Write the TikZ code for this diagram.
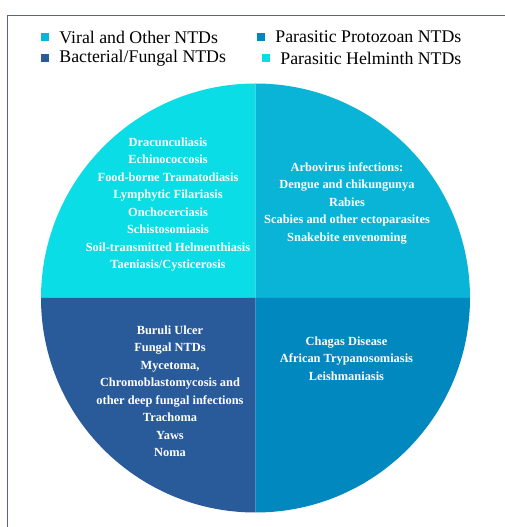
\documentclass[tikz,border=0pt]{standalone}
\usepackage{fontspec}
\setmainfont{Liberation Serif}
\usetikzlibrary{positioning}

\definecolor{helminth}{HTML}{0BDDE6}
\definecolor{viral}{HTML}{0AB4D6}
\definecolor{bacterial}{HTML}{295A9A}
\definecolor{protozoan}{HTML}{0088BF}
\definecolor{framecol}{HTML}{5A5DA8}

\begin{document}
\begin{tikzpicture}[
        x=1pt, y=1pt,
        node distance=0pt and 10pt,
        key/.style={rectangle, minimum size=8pt, inner sep=0pt},
        keytext/.style={inner sep=0pt, anchor=west, font=\rmfamily\fontsize{17.8}{19}\selectfont},
        group/.style={inner sep=0pt, align=center, text=white, font=\rmfamily\fontsize{12.4}{17.5}\selectfont\bfseries}
    ]
        \useasboundingbox (0,0) rectangle (505,527);
        \fill[white] (0,0) rectangle (505,527);

        % Frame
        \draw[framecol, line width=0.8pt] (7,0) -- (7,512) -- (505,512);

        % Pie
        \coordinate (c) at (255.5,229);
        \def\rad{214.5}
        \fill[helminth] (c) -- +(180:\rad) arc (180:90:\rad) -- cycle;
        \fill[viral] (c) -- +(90:\rad) arc (90:0:\rad) -- cycle;
        \fill[bacterial] (c) -- +(180:\rad) arc (180:270:\rad) -- cycle;
        \fill[protozoan] (c) -- +(270:\rad) arc (270:360:\rad) -- cycle;

        % Legend
        \node[key, fill=viral] (k1) at (45,490) {};
        \node[keytext, right=of k1] (t1) {Viral and Other NTDs};
        \node[key, fill=protozoan] (k2) at (261,490) {};
        \node[keytext, right=of k2] (t2) {Parasitic Protozoan NTDs};
        \node[key, fill=bacterial] (k3) at (45,469) {};
        \node[keytext, right=of k3] (t3) {Bacterial/Fungal NTDs};
        \node[key, fill=helminth] (k4) at (266,469) {};
        \node[keytext, right=of k4] (t4) {Parasitic Helminth NTDs};

        % Groups
        \node[group] (hel) at (168,322.5) {Dracunculiasis\\Echinococcosis\\Food-borne Tramatodiasis\\Lymphytic Filariasis\\Onchocerciasis\\Schistosomiasis\\Soil-transmitted Helmenthiasis\\Taeniasis/Cysticerosis};
        \node[group] (vir) at (347,323.5) {Arbovirus infections:\\Dengue and chikungunya\\Rabies\\Scabies and other ectoparasites\\Snakebite envenoming};
        \node[group] (bac) at (170,135.5) {Buruli Ulcer\\Fungal NTDs\\Mycetoma,\\Chromoblastomycosis and\\other deep fungal infections\\Trachoma\\Yaws\\Noma};
        \node[group] (pro) at (346.5,168.5) {Chagas Disease\\African Trypanosomiasis\\Leishmaniasis};
    \end{tikzpicture}
\end{document}
